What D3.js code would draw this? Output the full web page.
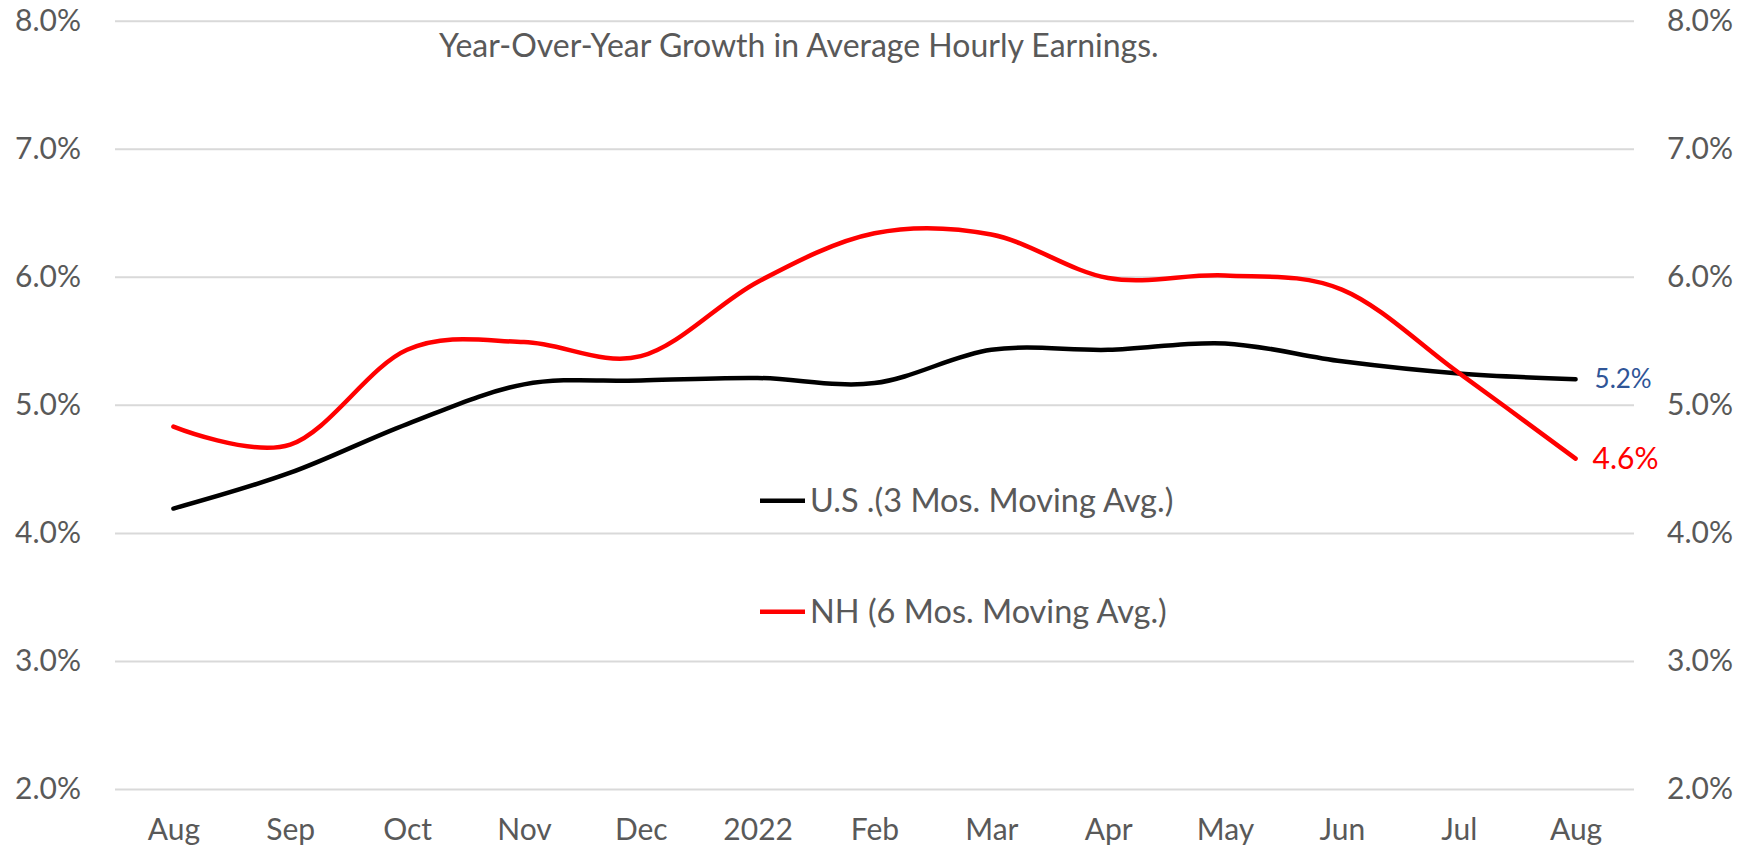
<html>
<script src="https://d3js.org/d3.v7.min.js"></script>
<style>
  body { margin: 0; background: white; }
  text { font-family: Lato, "Open Sans", sans-serif; }
</style>
<body>
<svg width=1752 height=852></svg>
<script>

const months = ["Aug", "Sep", "Oct", "Nov", "Dec", "2022", "Feb", "Mar", "Apr", "May", "Jun", "Jul", "Aug"];
const usValues = [4.19, 4.47, 4.85, 5.16, 5.19, 5.21, 5.17, 5.43, 5.43, 5.48, 5.34, 5.245, 5.20];
const nhValues = [4.83, 4.69, 5.43, 5.49, 5.38, 5.96, 6.34, 6.33, 5.99, 6.01, 5.90, 5.25, 4.58];
const yTicks = [2, 3, 4, 5, 6, 7, 8];
const seriesNames = ["U.S .(3 Mos. Moving Avg.)", "NH (6 Mos. Moving Avg.)"];
const chartTitle = "Year-Over-Year Growth in Average Hourly Earnings.";

const svg = d3.select('svg');

// month index used as key so both "Aug" stay separate
var x = d3.scalePoint().domain(d3.range(months.length)).range([115, 1634]).padding(0.5);
var y = d3.scaleLinear().domain([2, 8]).range([789, 20.7]);

// gridlines + left labels
var left = svg.append("g")
  .attr("transform", "translate(115,0)")
  .call(d3.axisLeft(y).tickValues(yTicks).tickSize(-1519).tickPadding(34)
    .tickFormat(d => d.toFixed(1) + "%"));
left.select(".domain").remove();
left.selectAll("line").attr("stroke", "#d9d9d9").attr("stroke-width", 2);
left.selectAll("text").attr("fill", "#595959").style("font-size", "30px");

// right labels
var right = svg.append("g")
  .attr("transform", "translate(1634,0)")
  .call(d3.axisRight(y).tickValues(yTicks).tickSize(0).tickPadding(33)
    .tickFormat(d => d.toFixed(1) + "%"));
right.select(".domain").remove();
right.selectAll("text").attr("fill", "#595959").style("font-size", "30px");

// month labels
var bottom = svg.append("g")
  .attr("transform", "translate(0,789)")
  .call(d3.axisBottom(x).tickSize(0).tickPadding(30).tickFormat(i => months[i]));
bottom.select(".domain").remove();
bottom.selectAll("text").attr("fill", "#595959").style("font-size", "30px");

var line = d3.line()
  .x((d, i) => x(i))
  .y(d => y(d))
  .curve(d3.curveCardinal.tension(0));

svg.append("path")
  .datum(usValues)
  .attr("d", line)
  .attr("fill", "none")
  .attr("stroke", "black")
  .attr("stroke-width", 4.5)
  .attr("stroke-linecap", "round");

svg.append("path")
  .datum(nhValues)
  .attr("d", line)
  .attr("fill", "none")
  .attr("stroke", "#ff0000")
  .attr("stroke-width", 4.5)
  .attr("stroke-linecap", "round");

// end labels
var last = months.length - 1;
svg.append("text")
  .attr("x", x(last) + 19)
  .attr("y", y(usValues[last]))
  .attr("dy", "0.35em")
  .attr("fill", "#2f5597")
  .style("font-size", "26px")
  .text(usValues[last].toFixed(1) + "%");

svg.append("text")
  .attr("x", x(last) + 17)
  .attr("y", y(nhValues[last]))
  .attr("dy", "0.35em")
  .attr("fill", "#ff0000")
  .style("font-size", "30px")
  .text(nhValues[last].toFixed(1) + "%");

// title
svg.append("text")
  .attr("x", 439)
  .attr("y", 57)
  .attr("fill", "#595959")
  .style("font-size", "32px")
  .text(chartTitle);

// legend
var colors = ["black", "#ff0000"];
var legend = svg.append("g").attr("transform", "translate(760,500.7)");
seriesNames.forEach(function(name, i) {
  var g = legend.append("g").attr("transform", "translate(0," + (i * 111) + ")");
  g.append("line")
    .attr("x1", 0).attr("x2", 45)
    .attr("stroke", colors[i]).attr("stroke-width", 4.5);
  g.append("text")
    .attr("x", 50)
    .attr("dy", "0.35em")
    .attr("fill", "#595959")
    .style("font-size", "32.5px")
    .text(name);
});

</script>
</body>
</html>
